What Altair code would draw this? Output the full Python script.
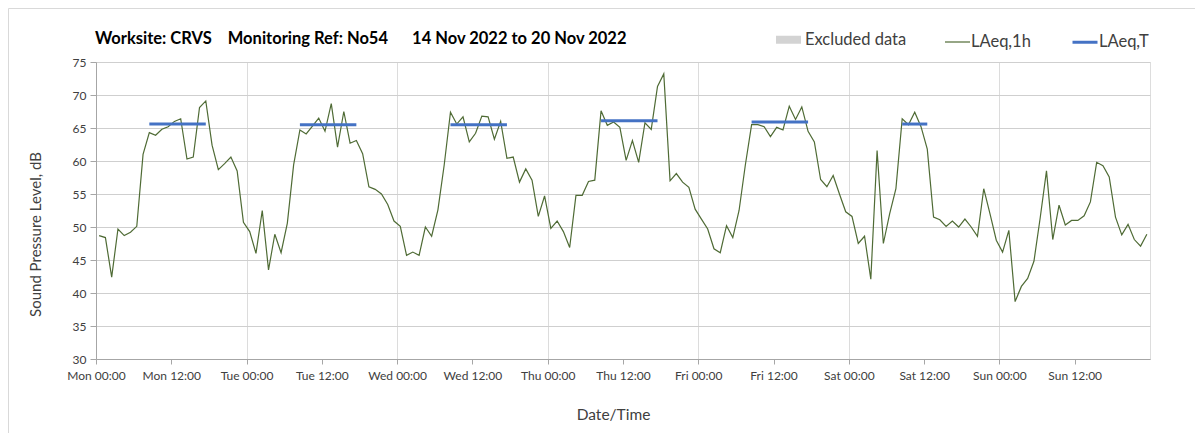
import json
import numpy as np
import pandas as pd
import altair as alt

# Hourly LAeq values, Mon 00:00 .. Sun 23:00 (one per hour)
laeq_1h = [
    48.7, 48.4, 42.4, 49.7, 48.7, 49.2, 50.1, 61.0, 64.3, 63.9, 64.8, 65.2,
    66.0, 66.4, 60.3, 60.6, 68.1, 69.1, 62.4, 58.7, 59.6, 60.6, 58.5, 50.7,
    49.3, 46.0, 52.5, 43.5, 48.9, 46.1, 50.6, 59.4, 64.7, 64.1, 65.3, 66.5,
    64.5, 68.7, 62.1, 67.5, 62.7, 63.1, 61.1, 56.1, 55.7, 55.0, 53.4, 50.9,
    50.1, 45.7, 46.2, 45.7, 50.0, 48.6, 52.6, 59.4, 67.4, 65.6, 66.7, 62.9,
    64.2, 66.8, 66.7, 63.3, 66.0, 60.4, 60.6, 56.8, 58.8, 57.1, 51.6, 54.7,
    49.8, 50.9, 49.3, 46.9, 54.8, 54.8, 56.9, 57.1, 67.6, 65.4, 65.9, 65.1,
    60.1, 63.1, 59.8, 65.8, 64.8, 71.3, 73.2, 57.0, 58.1, 56.8, 56.0, 52.7,
    51.2, 49.7, 46.7, 46.1, 50.2, 48.4, 52.5, 59.4, 65.5, 65.5, 65.2, 63.7,
    65.1, 64.7, 68.3, 66.3, 68.2, 64.5, 62.9, 57.2, 56.1, 57.8, 55.0, 52.3,
    51.6, 47.5, 48.6, 42.1, 61.6, 47.5, 52.0, 55.8, 66.4, 65.5, 67.4, 65.2,
    61.8, 51.5, 51.1, 50.1, 50.9, 50.0, 51.2, 50.0, 48.6, 55.8, 52.0, 48.0,
    46.2, 49.5, 38.7, 41.0, 42.2, 44.8, 51.4, 58.5, 48.1, 53.3, 50.3, 51.0,
    51.0, 51.7, 53.8, 59.8, 59.3, 57.6, 51.5, 48.8, 50.4, 48.1, 47.1, 48.9,
]

# LAeq,T periods (first and last hour of each period) and levels
t_start_hour = [8, 32, 56, 80, 104, 128]
t_end_hour = [17, 41, 65, 89, 113, 132]
t_level = [65.6, 65.5, 65.5, 66.1, 65.9, 65.6]

tick_hours = [0, 12, 24, 36, 48, 60, 72, 84, 96, 108, 120, 132, 144, 156]
tick_labels = ["Mon 00:00", "Mon 12:00", "Tue 00:00", "Tue 12:00", "Wed 00:00",
               "Wed 12:00", "Thu 00:00", "Thu 12:00", "Fri 00:00", "Fri 12:00",
               "Sat 00:00", "Sat 12:00", "Sun 00:00", "Sun 12:00"]
y_ticks = [30, 35, 40, 45, 50, 55, 60, 65, 70, 75]

series_names = ["Excluded data", "LAeq,1h", "LAeq,T"]
series_colors = ["#d3d3d3", "#4f6b35", "#4472c4"]
series_widths = [8, 1.2, 3]

title_parts = ["Worksite: CRVS", "Monitoring Ref: No54", "14 Nov 2022 to 20 Nov 2022"]
NB = "\u00a0"
title_text = title_parts[0] + NB * 4 + title_parts[1] + NB * 6 + title_parts[2]

df1 = pd.DataFrame({
    "hour": np.arange(len(laeq_1h)) + 0.5,
    "level": laeq_1h,
    "series": "LAeq,1h",
})
dfT = pd.DataFrame({
    "start": np.array(t_start_hour) + 0.5,
    "end": np.array(t_end_hour) + 0.5,
    "level": t_level,
    "series": "LAeq,T",
})
df_title = pd.DataFrame({"label": [title_text]})

FONT = "Lato"
TXT = "#404040"
W, H = 1054, 297
PAD = {"left": 88, "top": 54, "right": 45, "bottom": 74}

x_axis = alt.Axis(
    values=tick_hours,
    labelExpr=f"{json.dumps(tick_labels)}[round(datum.value / 12)]",
    title="Date/Time",
    titleFont=FONT, titleFontSize=15.5, titleFontWeight="normal", titleColor=TXT,
    titleX=517, titleY=55, titleAlign="center", titleBaseline="middle",
    labelFont=FONT, labelFontSize=12, labelColor=TXT, labelPadding=6,
    labelOverlap=False, labelFlush=False,
    tickSize=5, tickColor="#a6a6a6",
    domainColor="#a6a6a6",
    grid=True, gridColor="#dcdcdc", gridWidth=1,
    gridOpacity={"condition": {"test": "datum.value % 24 === 0", "value": 1}, "value": 0},
)
x_scale = alt.Scale(domain=[0, 168], nice=False, zero=False)

y_axis = alt.Axis(
    values=y_ticks,
    title="Sound Pressure Level, dB",
    titleFont=FONT, titleFontSize=15, titleFontWeight="normal", titleColor=TXT,
    titleAngle=-90, titleX=-61, titleY=172, titleAlign="center", titleBaseline="middle",
    labelFont=FONT, labelFontSize=12, labelColor=TXT, labelPadding=4,
    tickSize=6, tickColor="#a6a6a6",
    domainColor="#a6a6a6",
    grid=True, gridColor="#cfcfcf", gridWidth=1,
)
y_scale = alt.Scale(domain=[30, 75], nice=False, zero=False)

legend = alt.Legend(
    title=None, orient="none", direction="horizontal",
    legendX=676, legendY=-39,
    symbolType="stroke", symbolSize=625,
    labelFont=FONT, labelFontSize=16.5, labelColor=TXT, labelOffset=0,
    columnPadding=35,
)
color = alt.Color("series:N", scale=alt.Scale(domain=series_names, range=series_colors), legend=legend)
swidth = alt.StrokeWidth("series:N", scale=alt.Scale(type="ordinal", domain=series_names, range=series_widths), legend=legend)

line = alt.Chart(df1).mark_line(interpolate="linear").encode(
    x=alt.X("hour:Q", scale=x_scale, axis=x_axis),
    y=alt.Y("level:Q", scale=y_scale, axis=y_axis),
    color=color,
    strokeWidth=swidth,
)

rules = alt.Chart(dfT).mark_rule(strokeCap="butt").encode(
    x=alt.X("start:Q", scale=x_scale, axis=x_axis),
    x2="end:Q",
    y=alt.Y("level:Q", scale=y_scale, axis=y_axis),
    color=color,
    strokeWidth=swidth,
)

title = alt.Chart(df_title).mark_text(
    align="left", baseline="alphabetic", font=FONT, fontSize=16.5,
    fontWeight="bold", color="#000000",
).encode(
    x=alt.value(-1), y=alt.value(-18), text="label:N",
)

frame_top = alt.Chart(df_title).mark_rule(color="#d9d9d9", strokeWidth=1).encode(
    x=alt.value(-PAD["left"] + 0.5), x2=alt.value(W + PAD["right"]),
    y=alt.value(-PAD["top"] + 0.5),
)
frame_left = alt.Chart(df_title).mark_rule(color="#d9d9d9", strokeWidth=1).encode(
    x=alt.value(-PAD["left"] + 0.5),
    y=alt.value(-PAD["top"] + 0.5), y2=alt.value(H + PAD["bottom"]),
)

chart = alt.layer(line, rules, title, frame_top, frame_left).properties(
    width=W, height=H,
    padding=PAD,
    autosize=alt.AutoSizeParams(type="none"),
).configure_view(
    stroke="#b0b0b0", strokeWidth=1,
).configure(background="white")

chart.save("out.html", embed_options={"renderer": "svg", "actions": False})
